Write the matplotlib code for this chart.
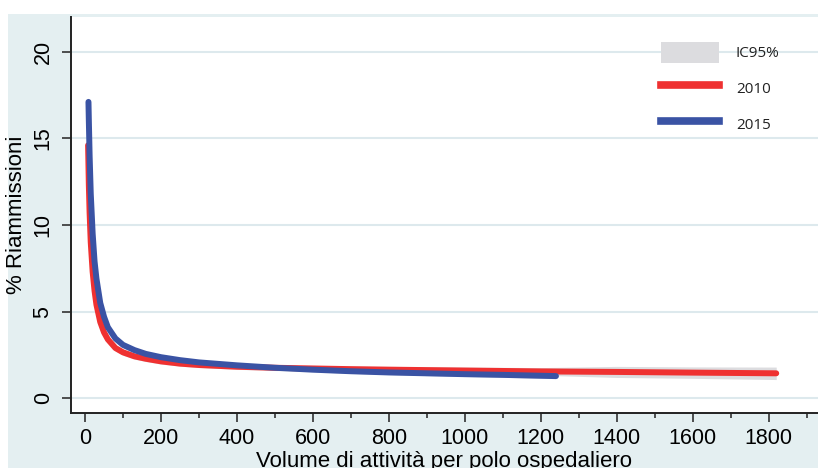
import matplotlib
matplotlib.use("Agg")
import matplotlib.pyplot as plt
from matplotlib.patches import Rectangle, Patch
from matplotlib.lines import Line2D
from matplotlib.ticker import MultipleLocator

# ---- data ----
red_x = [8, 10, 12, 15, 20, 25, 30, 40, 50, 60, 80, 100, 130, 160, 200, 250, 300,
         400, 500, 600, 700, 800, 1000, 1200, 1400, 1600, 1820]
red_y = [14.6, 12.3, 10.7, 9.0, 7.3, 6.2, 5.4, 4.4, 3.8, 3.4, 2.9, 2.65, 2.42, 2.28,
         2.13, 2.0, 1.92, 1.82, 1.76, 1.72, 1.68, 1.65, 1.60, 1.55, 1.52, 1.48, 1.44]
red_lo = [14.3, 12.0, 10.4, 8.75, 7.05, 5.95, 5.15, 4.2, 3.6, 3.2, 2.72, 2.48, 2.26,
          2.12, 1.97, 1.85, 1.77, 1.67, 1.6, 1.55, 1.5, 1.46, 1.4, 1.33, 1.2, 1.15, 1.08]
red_hi = [14.9, 12.6, 11.0, 9.25, 7.55, 6.45, 5.65, 4.6, 4.0, 3.6, 3.08, 2.82, 2.58,
          2.44, 2.29, 2.15, 2.07, 1.97, 1.92, 1.89, 1.86, 1.84, 1.8, 1.77, 1.84, 1.81, 1.8]

blue_x = [9, 10, 12, 15, 20, 25, 30, 40, 50, 60, 80, 100, 130, 160, 200, 250, 300,
          400, 500, 600, 700, 800, 900, 1000, 1100, 1240]
blue_y = [17.1, 16.0, 14.0, 11.8, 9.5, 7.9, 6.9, 5.5, 4.7, 4.1, 3.45, 3.08, 2.78, 2.56,
          2.37, 2.2, 2.07, 1.9, 1.76, 1.65, 1.56, 1.49, 1.44, 1.39, 1.35, 1.28]
blue_lo = [16.8, 15.7, 13.7, 11.5, 9.25, 7.65, 6.65, 5.3, 4.5, 3.92, 3.28, 2.92, 2.63,
           2.42, 2.23, 2.07, 1.94, 1.78, 1.64, 1.53, 1.44, 1.37, 1.31, 1.26, 1.21, 1.13]
blue_hi = [17.4, 16.3, 14.3, 12.1, 9.75, 8.15, 7.15, 5.7, 4.9, 4.28, 3.62, 3.24, 2.93,
           2.7, 2.51, 2.33, 2.2, 2.02, 1.88, 1.77, 1.68, 1.61, 1.57, 1.52, 1.49, 1.43]

x_ticks = [0, 200, 400, 600, 800, 1000, 1200, 1400, 1600, 1800]
y_ticks = [0, 5, 10, 15, 20]
legend_labels = ["IC95%", "2010", "2015"]
x_label = "Volume di attività per polo ospedaliero"
y_label = "% Riammissioni"

RED = "#ef3131"
BLUE = "#3a53a4"
GREY = "#dcdcdf"
BG = "#e4eff1"
GRID = "#dde9ed"

W, H = 818, 468
fig = plt.figure(figsize=(W / 100, H / 100), dpi=100, facecolor="white")
fig.patches.append(Rectangle((8 / W, 0), 1 - 8 / W, 1 - 14 / H, transform=fig.transFigure,
                             facecolor=BG, edgecolor="none", zorder=-10))

ax = fig.add_axes([71 / W, 1 - 413 / H, (W - 71) / W, (413 - 17) / H])
ax.set_facecolor("white")

ax.fill_between(red_x, red_lo, red_hi, color=GREY, lw=0, zorder=1)
ax.fill_between(blue_x, blue_lo, blue_hi, color=GREY, lw=0, zorder=1)
ax.plot(red_x, red_y, color=RED, lw=4.3, solid_capstyle="round", zorder=3)
ax.plot(blue_x, blue_y, color=BLUE, lw=4.3, solid_capstyle="round", zorder=4)

ax.set_xlim(-37, 1930)
ax.set_ylim(-0.85, 22.0)
ax.set_xticks(x_ticks)
ax.xaxis.set_minor_locator(MultipleLocator(100))
ax.set_yticks(y_ticks)
ax.grid(axis="y", color=GRID, lw=1.5, zorder=0)
ax.set_axisbelow(True)

for s in ["top", "right"]:
    ax.spines[s].set_visible(False)
for s in ["left", "bottom"]:
    ax.spines[s].set_color("#222222")
    ax.spines[s].set_linewidth(1.4)

tickfont = dict(family="Liberation Sans", size=15.5)
ax.tick_params(axis="both", which="major", length=6.5, width=1.1, color="#222222")
ax.tick_params(axis="x", which="minor", length=3.8, width=1.1, color="#222222")
ax.tick_params(axis="x", pad=4.0)
ax.tick_params(axis="y", pad=6.0)
ax.set_xticklabels([str(v) for v in x_ticks], **tickfont)
ax.set_yticklabels([str(v) for v in y_ticks], rotation=90, va="center", **tickfont)

ax.set_xlabel(x_label, family="Liberation Sans", size=16, labelpad=1.5)
ax.set_ylabel(y_label, family="Liberation Sans", size=16, labelpad=4)

handles = [Patch(facecolor=GREY, edgecolor="none"),
           Line2D([], [], color=RED, lw=5.5),
           Line2D([], [], color=BLUE, lw=5.5)]
leg = ax.legend(handles, legend_labels, loc="upper right", bbox_to_anchor=(0.967, 0.972),
                frameon=False, prop=dict(family="Open Sans", size=11),
                handlelength=3.8, handleheight=1.75, labelspacing=0.95, handletextpad=1.1)
for t in leg.get_texts():
    t.set_color("#222222")

fig.savefig("out.png", dpi=100, facecolor="white")
